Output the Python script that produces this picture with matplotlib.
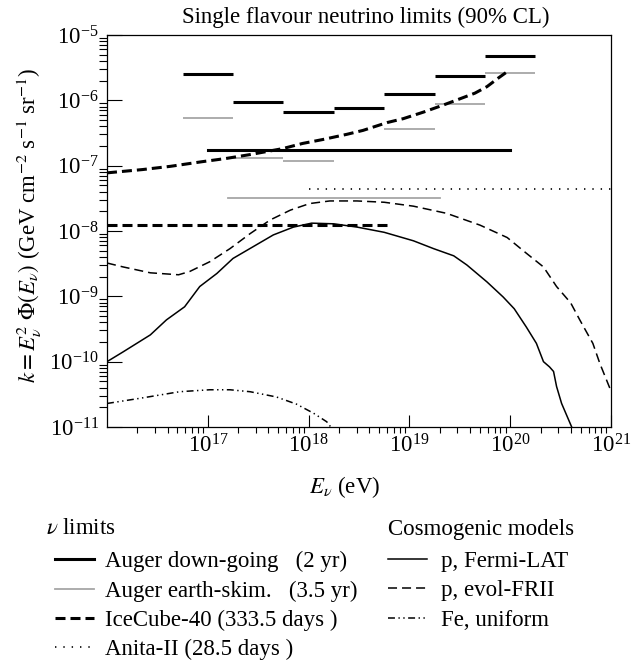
import numpy as np
import matplotlib.pyplot as plt

plt.rcParams['font.family'] = 'serif'
plt.rcParams['font.serif'] = ['Liberation Serif', 'DejaVu Serif']
plt.rcParams['mathtext.fontset'] = 'stix'
plt.rcParams['lines.scale_dashes'] = False

# Auger differential limits, half-decade bins (log10 E edges)
bin_edges = [16.75, 17.25, 17.75, 18.25, 18.75, 19.25, 19.75, 20.25]
down_going = [2.55e-6, 9.4e-7, 6.6e-7, 7.7e-7, 1.25e-6, 2.35e-6, 4.8e-6]
earth_skim = [5.3e-7, 1.32e-7, 1.18e-7, 1.72e-7, 3.6e-7, 8.9e-7, 2.6e-6]

# integrated limits: value and energy range (log10 E)
down_int, down_range = 1.72e-7, [17.0, 20.0]
skim_int, skim_range = 3.2e-8, [17.2, 19.3]
ice_int, ice_range = 1.23e-8, [16.0, 18.8]
anita_int, anita_range = 4.4e-8, [18.0, 21.0]

# IceCube-40 differential limit
ice_logE = [16.0, 16.35, 16.63, 16.94, 17.18, 17.42, 17.74, 17.94, 18.14, 18.38,
            18.54, 18.78, 18.94, 19.14, 19.34, 19.53, 19.65, 19.77, 19.89, 19.99]
ice_logk = [-7.11, -7.06, -7.01, -6.94, -6.89, -6.83, -6.74, -6.66, -6.60, -6.52,
            -6.46, -6.34, -6.28, -6.18, -6.07, -5.96, -5.89, -5.79, -5.65, -5.54]

# cosmogenic models
fermi_logE = [16.0, 16.16, 16.43, 16.59, 16.77, 16.92, 17.09, 17.25, 17.45, 17.65,
              17.85, 18.03, 18.25, 18.48, 18.75, 19.04, 19.24, 19.44, 19.57, 19.77,
              19.93, 20.04, 20.16, 20.26, 20.33, 20.39, 20.43, 20.46, 20.51, 20.56, 20.61]
fermi_logk = [-10.0, -9.85, -9.59, -9.36, -9.16, -8.85, -8.65, -8.42, -8.24, -8.06,
              -7.94, -7.88, -7.89, -7.94, -8.02, -8.15, -8.27, -8.38, -8.52, -8.78,
              -9.01, -9.19, -9.47, -9.72, -10.0, -10.08, -10.15, -10.38, -10.64, -10.82, -11.0]

frii_logE = [16.0, 16.16, 16.43, 16.71, 16.82, 17.02, 17.22, 17.42, 17.62, 17.82,
             18.01, 18.21, 18.48, 18.75, 19.04, 19.37, 19.70, 19.97, 20.16, 20.33,
             20.46, 20.60, 20.69, 20.82, 20.89, 21.0]
frii_logk = [-8.49, -8.55, -8.64, -8.67, -8.62, -8.47, -8.27, -8.04, -7.83, -7.68,
             -7.58, -7.54, -7.54, -7.56, -7.62, -7.73, -7.91, -8.10, -8.34, -8.55,
             -8.85, -9.10, -9.36, -9.72, -10.03, -10.45]

fe_logE = [16.0, 16.33, 16.72, 17.02, 17.22, 17.42, 17.68, 17.88, 18.05, 18.18, 18.22]
fe_logk = [-10.64, -10.56, -10.46, -10.43, -10.43, -10.46, -10.54, -10.65, -10.79, -10.92, -11.0]

limit_labels = ["Auger down-going   (2 yr)", "Auger earth-skim.   (3.5 yr)",
                "IceCube-40 (333.5 days )", "Anita-II (28.5 days )"]
model_labels = ["p, Fermi-LAT", "p, evol-FRII", "Fe, uniform"]

FS = 16.5
GRAY = '#a6a6a6'
ice_dash = (7.2, 3.6)
frii_dash = (6.5, 3.6)
fe_dash = (5.0, 2.5, 1.0, 2.5, 1.0, 2.5)
anita_dash = (1.0, 5.0)


def p10(v):
    return 10.0 ** np.asarray(v)


fig = plt.figure(figsize=(6.31, 6.62), dpi=100)
ax = fig.add_axes([107 / 631, 1 - 427 / 662, 504 / 631, 392 / 662])

lo, hi = p10(bin_edges[:-1]), p10(bin_edges[1:])
ax.hlines(earth_skim, lo, hi, color=GRAY, lw=1.3)
ax.hlines(down_going, lo, hi, color='black', lw=2.2)

h_skim, = ax.plot(p10(skim_range), [skim_int] * 2, color=GRAY, lw=1.3)
h_down, = ax.plot(p10(down_range), [down_int] * 2, color='black', lw=2.2)
ax.plot(p10(ice_range), [ice_int] * 2, color='black', lw=2.2, dashes=ice_dash)
h_ice, = ax.plot(p10(ice_logE), p10(ice_logk), color='black', lw=2.2, dashes=ice_dash)
h_anita, = ax.plot(p10(anita_range), [anita_int] * 2, color='black', lw=1.2, dashes=anita_dash)

h_fermi, = ax.plot(p10(fermi_logE), p10(fermi_logk), color='black', lw=1.1)
h_frii, = ax.plot(p10(frii_logE), p10(frii_logk), color='black', lw=1.1, dashes=frii_dash)
h_fe, = ax.plot(p10(fe_logE), p10(fe_logk), color='black', lw=1.1, dashes=fe_dash)

ax.set_xscale('log')
ax.set_yscale('log')
ax.set_xlim(1e16, 1e21)
ax.set_ylim(1e-11, 1e-5)
ax.set_xticks([1e17, 1e18, 1e19, 1e20, 1e21])
ax.set_yticks([1e-11, 1e-10, 1e-9, 1e-8, 1e-7, 1e-6, 1e-5])
ax.xaxis.set_minor_locator(plt.LogLocator(base=10, subs=np.arange(2, 10), numticks=20))
ax.yaxis.set_minor_locator(plt.LogLocator(base=10, subs=np.arange(2, 10), numticks=20))
ax.xaxis.set_minor_formatter(plt.NullFormatter())
ax.yaxis.set_minor_formatter(plt.NullFormatter())

ax.tick_params(direction='in', top=False, right=False, labelsize=FS, width=0.8)
ax.tick_params(axis='y', which='major', length=10.8, pad=6)
ax.tick_params(axis='y', which='minor', length=5.5, width=0.8)
ax.tick_params(axis='x', which='major', length=8.5, pad=5)
ax.tick_params(axis='x', which='minor', length=4, width=0.8)
for s in ax.spines.values():
    s.set_linewidth(0.9)

ax.set_xlabel(r'$E_\nu$ (eV)', fontsize=FS)
ax.xaxis.set_label_coords(0.472, -0.12)
ax.set_ylabel(r'$k = E_\nu^2\ \Phi(E_\nu)$ (GeV cm$^{-2}$ s$^{-1}$ sr$^{-1}$)', fontsize=FS)
ax.yaxis.set_label_coords(-0.125, 0.515)
fig.text(366 / 631, 1 - 17 / 662, 'Single flavour neutrino limits (90% CL)',
         ha='center', va='center', fontsize=FS)

fig.text(46 / 631, 1 - 529 / 662, r'$\nu$ limits', va='center', fontsize=FS)
fig.text(388 / 631, 1 - 529 / 662, 'Cosmogenic models', va='center', fontsize=FS)
fig.legend(handles=[h_down, h_skim, h_ice, h_anita], labels=limit_labels,
           loc='upper left', bbox_to_anchor=(55 / 631, 1 - 551 / 662), frameon=False,
           fontsize=FS, handlelength=1.7, handletextpad=0.5, labelspacing=0.36,
           borderpad=0, borderaxespad=0)
fig.legend(handles=[h_fermi, h_frii, h_fe], labels=model_labels,
           loc='upper left', bbox_to_anchor=(388 / 631, 1 - 551 / 662), frameon=False,
           fontsize=FS, handlelength=1.7, handletextpad=0.6, labelspacing=0.36,
           borderpad=0, borderaxespad=0)

plt.savefig('out.png', dpi=100)
